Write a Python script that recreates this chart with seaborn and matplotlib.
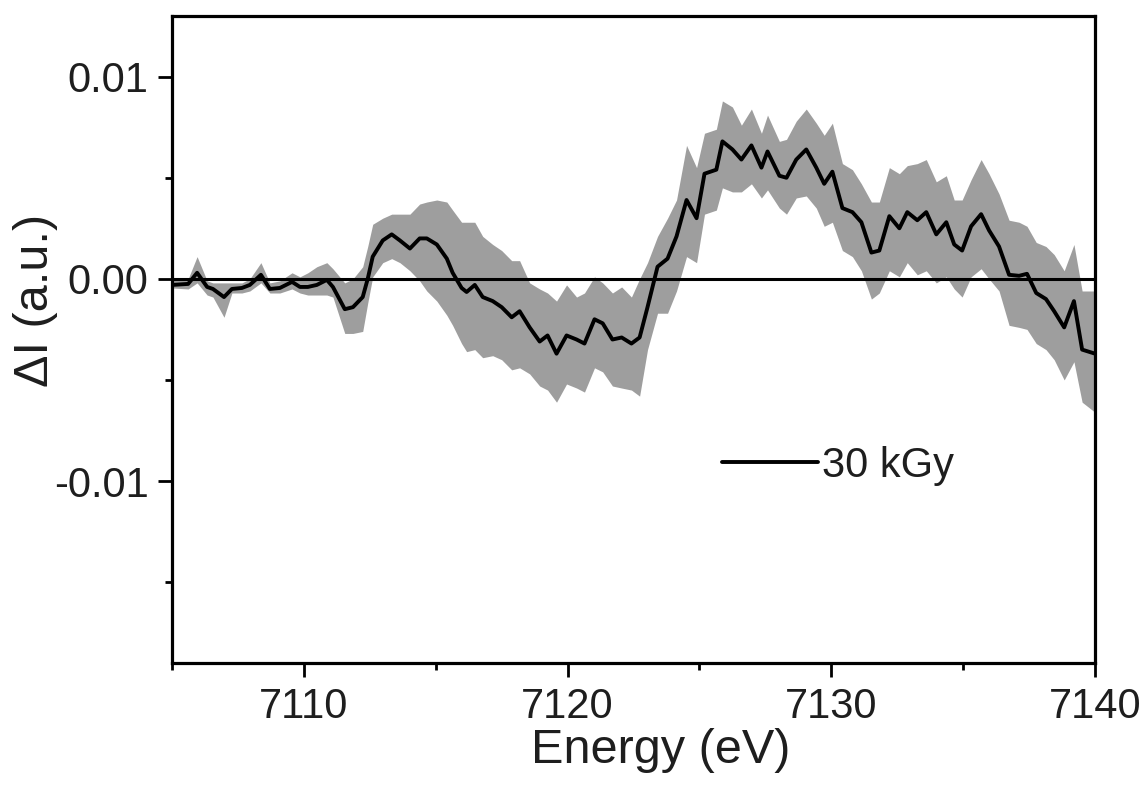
import matplotlib
matplotlib.use("Agg")
import matplotlib.pyplot as plt
import seaborn as sns
import pandas as pd
from matplotlib.ticker import MultipleLocator

energy = [7105.00, 7105.61, 7105.95, 7106.33, 7106.55, 7106.97, 7107.27, 7107.65, 7107.95, 7108.37,
          7108.71, 7109.09, 7109.55, 7109.85, 7110.15, 7110.49, 7110.87, 7111.10, 7111.55, 7111.86,
          7112.23, 7112.42, 7112.61, 7112.99, 7113.33, 7113.64, 7114.02, 7114.39, 7114.66, 7115.04,
          7115.42, 7115.64, 7115.98, 7116.17, 7116.48, 7116.78, 7117.16, 7117.50, 7117.88, 7118.18,
          7118.56, 7118.94, 7119.24, 7119.58, 7119.96, 7120.34, 7120.64, 7121.02, 7121.33, 7121.70,
          7122.05, 7122.42, 7122.73, 7123.03, 7123.41, 7123.79, 7124.13, 7124.51, 7124.89, 7125.19,
          7125.64, 7125.87, 7126.25, 7126.59, 7126.97, 7127.35, 7127.58, 7128.03, 7128.30, 7128.67,
          7129.05, 7129.43, 7129.73, 7130.04, 7130.42, 7130.80, 7131.14, 7131.52, 7131.82, 7132.20,
          7132.58, 7132.88, 7133.26, 7133.60, 7133.98, 7134.36, 7134.66, 7134.96, 7135.30, 7135.68,
          7135.98, 7136.36, 7136.74, 7137.12, 7137.42, 7137.77, 7138.14, 7138.45, 7138.83, 7139.20,
          7139.51, 7140.00]

delta_i = [-0.0003, -0.00025, 0.0003, -0.0004, -0.0005, -0.0009, -0.0005, -0.00045, -0.0003, 0.0002,
           -0.0005, -0.00045, -0.00015, -0.0004, -0.0004, -0.0003, -0.00005, -0.0004, -0.0015, -0.0014,
           -0.0009, 0.0, 0.0011, 0.0019, 0.0022, 0.0019, 0.0015, 0.0020, 0.0020, 0.0017,
           0.0010, 0.0003, -0.00045, -0.00065, -0.0003, -0.0009, -0.0011, -0.0014, -0.0019, -0.0016,
           -0.0024, -0.0031, -0.0028, -0.0037, -0.0028, -0.0030, -0.0032, -0.0020, -0.0022, -0.0030,
           -0.0029, -0.0032, -0.0029, -0.0014, 0.0006, 0.0010, 0.0021, 0.0039, 0.0030, 0.0052,
           0.0054, 0.0068, 0.0064, 0.0059, 0.0066, 0.0055, 0.0063, 0.0051, 0.0050, 0.0059,
           0.0064, 0.0055, 0.0047, 0.0053, 0.0035, 0.0033, 0.0028, 0.0013, 0.0014, 0.0031,
           0.0025, 0.0033, 0.0029, 0.0033, 0.0022, 0.0028, 0.0017, 0.0014, 0.0026, 0.0032,
           0.0024, 0.0016, 0.0002, 0.00015, 0.00025, -0.0007, -0.0010, -0.0016, -0.0024, -0.0011,
           -0.0035, -0.0037]

upper = [0.0, 0.0, 0.0011, -0.0001, -0.0002, -0.0002, -0.0002, -0.0002, 0.0, 0.0008,
         -0.0002, -0.0001, 0.0003, 0.0001, 0.0003, 0.0006, 0.0008, 0.0005, -0.0002, 0.0,
         0.0006, 0.0016, 0.0027, 0.0030, 0.0032, 0.0032, 0.0032, 0.0037, 0.0038, 0.0039,
         0.0038, 0.0034, 0.0028, 0.0028, 0.0028, 0.0021, 0.0017, 0.0014, 0.0009, 0.0009,
         -0.0002, -0.0005, -0.0007, -0.0011, -0.0003, -0.0009, -0.0007, 0.0001, -0.0002, -0.0007,
         -0.0004, -0.0009, 0.0, 0.0008, 0.0021, 0.0030, 0.0039, 0.0066, 0.0055, 0.0072,
         0.0074, 0.0088, 0.0085, 0.0076, 0.0084, 0.0072, 0.0081, 0.0068, 0.0069, 0.0078,
         0.0084, 0.0077, 0.0071, 0.0077, 0.0057, 0.0054, 0.0047, 0.0038, 0.0038, 0.0055,
         0.0052, 0.0056, 0.0057, 0.0059, 0.0048, 0.0051, 0.0039, 0.0039, 0.0049, 0.0059,
         0.0052, 0.0042, 0.0029, 0.0028, 0.0026, 0.0018, 0.0016, 0.0012, 0.0004, 0.0017,
         -0.0006, -0.0006]

lower = [-0.00045, -0.0005, -0.0002, -0.0008, -0.0009, -0.0019, -0.0007, -0.0007, -0.0006, -0.0002,
         -0.0007, -0.0007, -0.0005, -0.0007, -0.0008, -0.0008, -0.0008, -0.0009, -0.0027, -0.0027,
         -0.0026, -0.0012, 0.0001, 0.0008, 0.0010, 0.0008, 0.0004, -0.0001, -0.0006, -0.0011,
         -0.0018, -0.0023, -0.0032, -0.0036, -0.0035, -0.0039, -0.0038, -0.0040, -0.0045, -0.0044,
         -0.0047, -0.0053, -0.0055, -0.0061, -0.0052, -0.0054, -0.0056, -0.0044, -0.0046, -0.0053,
         -0.0054, -0.0055, -0.0058, -0.0035, -0.0017, -0.0017, -0.0006, 0.0011, 0.0008, 0.0032,
         0.0034, 0.0045, 0.0043, 0.0043, 0.0047, 0.0040, 0.0044, 0.0035, 0.0032, 0.0040,
         0.0041, 0.0035, 0.0026, 0.0028, 0.0014, 0.0011, 0.0004, -0.0010, -0.0007, 0.0004,
         0.0001, 0.0008, 0.0002, 0.0004, -0.0002, 0.0001, -0.0005, -0.0009, 0.0001, 0.0005,
         0.0, -0.0006, -0.0023, -0.0024, -0.0025, -0.0032, -0.0035, -0.0040, -0.0050, -0.0041,
         -0.0061, -0.0066]

series_label = "30 kGy"
x_ticks = [7110, 7120, 7130, 7140]
y_ticks = [-0.01, 0.00, 0.01]
y_tick_labels = ["-0.01", "0.00", "0.01"]

sns.set_style("ticks")
plt.rcParams["font.family"] = ["Liberation Sans", "DejaVu Sans"]

fig = plt.figure(figsize=(11.47, 7.85), dpi=100)
ax = fig.add_axes([0.150, 0.1554, 0.8047, 0.8242])

df = pd.DataFrame({"Energy": energy, "dI": delta_i})

ax.fill_between(energy, lower, upper, color="#9e9e9e", linewidth=0, zorder=1)
ax.axhline(0, color="black", linewidth=2.2, zorder=2)
sns.lineplot(data=df, x="Energy", y="dI", ax=ax, color="black", linewidth=2.8,
             label=series_label, zorder=3)

ax.set_xlim(7105, 7140)
ax.set_ylim(-0.019, 0.013)
ax.set_xticks(x_ticks)
ax.set_xticklabels([str(t) for t in x_ticks])
ax.set_yticks(y_ticks)
ax.set_yticklabels(y_tick_labels)
ax.xaxis.set_minor_locator(MultipleLocator(5))
ax.yaxis.set_minor_locator(MultipleLocator(0.005))

ax.tick_params(axis="both", which="major", direction="out", length=10, width=2,
               labelsize=30, color="black", labelcolor="#1e1e1e", pad=7)
ax.tick_params(axis="both", which="minor", direction="out", length=5, width=2, color="black")
for side in ["top", "right", "left", "bottom"]:
    ax.spines[side].set_visible(True)
    ax.spines[side].set_linewidth(2.3)
    ax.spines[side].set_color("black")

ax.set_xlabel("Energy (eV)", fontsize=35, color="#1e1e1e")
ax.set_ylabel("ΔI (a.u.)", fontsize=35, color="#1e1e1e")
ax.xaxis.set_label_coords(0.529, -0.100)
ax.yaxis.set_label_coords(-0.124, 0.561)

leg = ax.legend(loc="center left", bbox_to_anchor=(0.596, 0.3045), frameon=False,
                fontsize=30, handlelength=2.3, handletextpad=0.1, borderpad=0,
                borderaxespad=0)
for t in leg.get_texts():
    t.set_color("#1e1e1e")

fig.savefig("out.png", dpi=100)
